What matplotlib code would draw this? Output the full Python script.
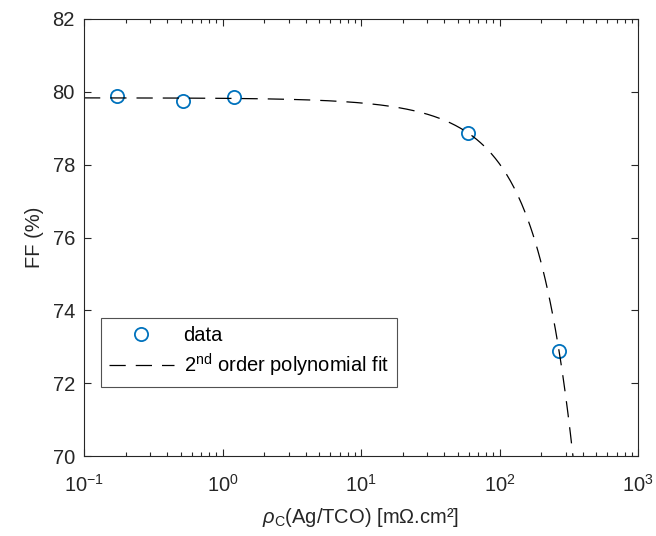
import numpy as np
import matplotlib
matplotlib.use("Agg")
import matplotlib.pyplot as plt

plt.rcParams['font.family'] = ['Liberation Sans', 'DejaVu Sans']
plt.rcParams['mathtext.fontset'] = 'custom'
plt.rcParams['mathtext.rm'] = 'Liberation Sans'
plt.rcParams['mathtext.it'] = 'Liberation Sans:italic'

# contact resistivity (mOhm.cm2) and fill factor (%)
rho_c = [0.173, 0.519, 1.21, 59.3, 269.0]
ff = [79.88, 79.75, 79.85, 78.87, 72.89]

x_ticks = [0.1, 1, 10, 100, 1000]
y_ticks = [70, 72, 74, 76, 78, 80, 82]

# 2nd order polynomial fit (linear in rho)
coef = np.polyfit(rho_c, ff, 2)
x_fit = np.logspace(-1, np.log10(400), 400)
y_fit = np.polyval(coef, x_fit)

fs = 14.5
fig = plt.figure(figsize=(6.56, 5.36), dpi=100)
ax = fig.add_axes([84/656, 1-456/536, 554/656, 437/536])

ax.plot(rho_c, ff, 'o', mfc='none', mec='#0072BD', mew=1.3, ms=9.5, label='data')
ax.plot(x_fit, y_fit, color='k', lw=0.9, dashes=(13, 8),
        label=r'2$^{\mathrm{nd}}$ order polynomial fit')

ax.set_xscale('log')
ax.set_xlim(0.1, 1000)
ax.set_ylim(70, 82)
ax.set_xticks(x_ticks)
ax.set_yticks(y_ticks)
ax.tick_params(which='both', direction='in', top=True, right=True, labelsize=fs,
               colors='#262626', width=0.8)
ax.tick_params(which='major', length=5)
ax.tick_params(which='minor', length=3)
ax.tick_params(axis='y', pad=6.5)
ax.tick_params(axis='x', pad=13)
for s in ax.spines.values():
    s.set_color('#262626')
    s.set_linewidth(0.8)

ax.set_ylabel('FF (%)', fontsize=fs, color='#262626', labelpad=6)
ax.set_xlabel(r'$\rho_{\mathrm{C}}$(Ag/TCO) [m$\Omega$.cm²]', fontsize=fs,
              color='#262626', labelpad=7)

leg = ax.legend(loc='lower left', bbox_to_anchor=(17/554, 69/437), fontsize=fs,
                frameon=True, fancybox=False, edgecolor='#262626', borderpad=0.4,
                handlelength=3.2, handletextpad=0.5, labelspacing=0.35, borderaxespad=0)
leg.get_frame().set_linewidth(0.8)

fig.savefig('out.png', dpi=100)
